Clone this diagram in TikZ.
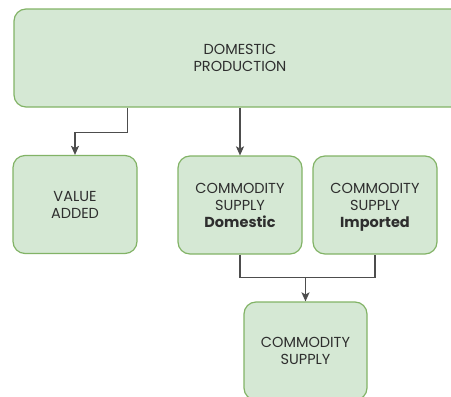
\documentclass[tikz,border=0pt]{standalone}
\usepackage{fontspec}
\setmainfont{Poppins}
\usetikzlibrary{calc,arrows.meta}
\definecolor{boxfill}{HTML}{D5E8D4}
\definecolor{boxline}{HTML}{82B366}
\definecolor{txt}{HTML}{2E2E2E}
\definecolor{wire}{HTML}{4D4D4D}
\begin{document}
\begin{tikzpicture}[x=1pt,y=-1pt,
  greenbox/.style={draw=boxline,fill=boxfill,line width=1.2pt,rounded corners=12pt,
    minimum width=124pt,minimum height=98pt,inner sep=0pt,align=center,
    text depth=0pt,text=txt,font=\fontsize{14.5}{17}\selectfont},
  wireline/.style={draw=wire,line width=1.2pt},
  arr/.style={wireline,-{Stealth[length=9pt,width=8pt,inset=2pt]}}]
\useasboundingbox (0,0) rectangle (451,397);
\clip (0,0) rectangle (451,397);
% boxes
\node[greenbox,minimum width=452pt] (prod) at (240,58) {DOMESTIC\\PRODUCTION};
\node[greenbox] (va)  at (75,204.5)  {VALUE\\ADDED};
\node[greenbox] (dom) at (240,205)   {COMMODITY\\SUPPLY\\\textbf{Domestic}};
\node[greenbox] (imp) at (375,205)   {COMMODITY\\SUPPLY\\\textbf{Imported}};
\node[greenbox,minimum width=123pt] (sup) at (305.5,351) {COMMODITY\\SUPPLY};
% connectors from production
\coordinate (p1) at ($(prod.south west)+(114,0)$);
\draw[arr] (p1) -- ++(0,25) -| (va.north);
\draw[arr] (prod.south) -- (dom.north);
% domestic and imported supply join into total supply
\coordinate (join) at ($(sup.north)+(0,-24)$);
\draw[wireline] (dom.south) |- (join) -| (imp.south);
\draw[arr] (join) -- (sup.north);
\end{tikzpicture}
\end{document}
